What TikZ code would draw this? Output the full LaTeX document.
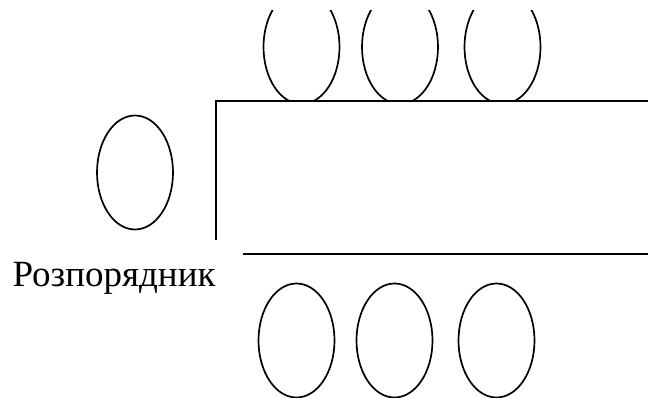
\documentclass[tikz,border=0pt]{standalone}
\usepackage{fontspec}
\setmainfont{Liberation Serif}
\usetikzlibrary{shapes.geometric}
\begin{document}
\begin{tikzpicture}[
        x=1pt, y=-1pt,
        line width=1.7pt,
        ovalNode/.style={ellipse, draw, minimum width=76pt, minimum height=114pt, inner sep=0pt},
        labelNode/.style={anchor=base west, inner sep=0pt, font=\fontsize{37}{40}\selectfont}
    ]
        \useasboundingbox (0,0) rectangle (648,398);

        % Corner points of the block
        \coordinate (topLeft) at (216,101);
        \coordinate (topRight) at (648,101);
        \coordinate (sideEnd) at (216,240);
        \coordinate (lowLeft) at (243,254);
        \coordinate (lowRight) at (648,254);

        % Upper ovals, cut by the block
        \begin{scope}
            \clip (0,11) rectangle (648,101);
            \node[ovalNode] (u1) at (301.5,47) {};
            \node[ovalNode] (u2) at (400,47) {};
            \node[ovalNode] (u3) at (502.5,47) {};
        \end{scope}

        % Left oval and label
        \node[ovalNode] (left) at (135,172.5) {};
        \node[labelNode] (label) at (11.7,286.7) {Розпорядник};

        % Lower ovals
        \node[ovalNode] (d1) at (296.5,340.5) {};
        \node[ovalNode] (d2) at (394.5,340.5) {};
        \node[ovalNode] (d3) at (496.5,340.5) {};

        % Block edges
        \draw (sideEnd) -- (topLeft) -- (topRight);
        \draw (lowLeft) -- (lowRight);
    \end{tikzpicture}
\end{document}
